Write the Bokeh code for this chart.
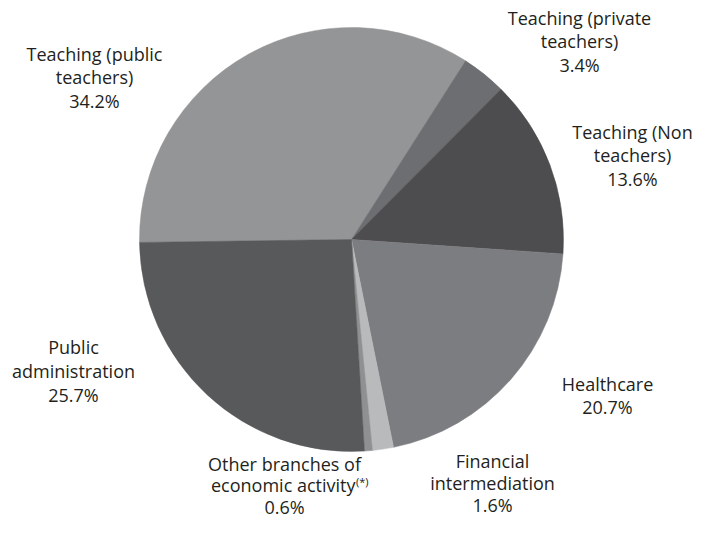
import numpy as np
from bokeh.plotting import figure
from bokeh.models import Range1d, ColumnDataSource
from bokeh.core.properties import value
from bokeh.embed import file_html
from bokeh.resources import INLINE

# ---- data ----
categories = ["Teaching (public teachers)", "Teaching (private teachers)",
              "Teaching (Non teachers)", "Healthcare", "Financial intermediation",
              "Other branches of economic activity", "Public administration"]
shares = [34.2, 3.4, 13.6, 20.7, 1.6, 0.6, 25.7]
label_lines = [["Teaching (public", "teachers)"],
               ["Teaching (private", "teachers)"],
               ["Teaching (Non", "teachers)"],
               ["Healthcare"],
               ["Financial", "intermediation"],
               ["Other branches of", "economic activity"],
               ["Public", "administration"]]
footnote_mark = "(*)"   # attached to "Other branches of economic activity"

# ---- styles / layout (pixel coordinates from the top-left of the figure) ----
colors = ["#949597", "#6d6e71", "#4d4d4f", "#7c7d80", "#b9babc", "#8f9092", "#58595b"]
FW, FH = 701, 518
cx, cy, R = 351, 239, 212
start_deg = 269.2                      # clockwise from 12 o'clock
label_x = [94, 579, 632, 607, 492, 284, 73]
label_top = [53.5, 17.5, 131, 383, 460, 463, 346.5]
line_gap = [23.3, 23.3, 23.7, 23.5, 22, 21.5, 24]
font = "Open Sans"
fsize = "18px"
tcolor = "#231f20"

p = figure(width=FW, height=FH, output_backend="svg", toolbar_location=None,
           x_range=Range1d(0, FW), y_range=Range1d(0, FH),
           min_border=0, min_border_left=0, min_border_right=0,
           min_border_top=0, min_border_bottom=0)
p.axis.visible = False
p.grid.visible = False
p.outline_line_color = None
p.background_fill_color = "white"
p.border_fill_color = "white"

frac = np.array(shares) / np.sum(shares)
cum = np.concatenate([[0], np.cumsum(frac)])
theta0 = start_deg + cum[:-1] * 360
theta1 = start_deg + cum[1:] * 360
src = ColumnDataSource(dict(start=90 - theta0, end=90 - theta1, color=colors, cat=categories))
p.wedge(x=cx, y=FH - cy, radius=R, start_angle="start", end_angle="end",
        start_angle_units="deg", end_angle_units="deg", direction="clock",
        fill_color="color", line_color="color", line_width=0.5, source=src)

xs, ys, ts = [], [], []
sup = None
for i, lines in enumerate(label_lines):
    all_lines = lines + [f"{shares[i]:.1f}%"]
    for j, t in enumerate(all_lines):
        yy = label_top[i] + j * line_gap[i]
        if i == 5 and j == 1:
            sup = (t, yy)
            continue
        xs.append(label_x[i]); ys.append(FH - yy); ts.append(t)

p.text(x=xs, y=ys, text=ts, text_align="center", text_baseline="middle",
       text_font=value(font), text_font_size=fsize, text_color=tcolor)

# line with superscript footnote mark
t, yy = sup
anchor = 355
p.text(x=[anchor], y=[FH - yy], text=[t], text_align="right", text_baseline="middle",
       text_font=value(font), text_font_size=fsize, text_color=tcolor)
p.text(x=[anchor + 0.5], y=[FH - yy + 4], text=[footnote_mark], text_align="left",
       text_baseline="middle", text_font=value(font), text_font_size="11px",
       text_color=tcolor)

open("out.html", "w").write(file_html(p, INLINE))
